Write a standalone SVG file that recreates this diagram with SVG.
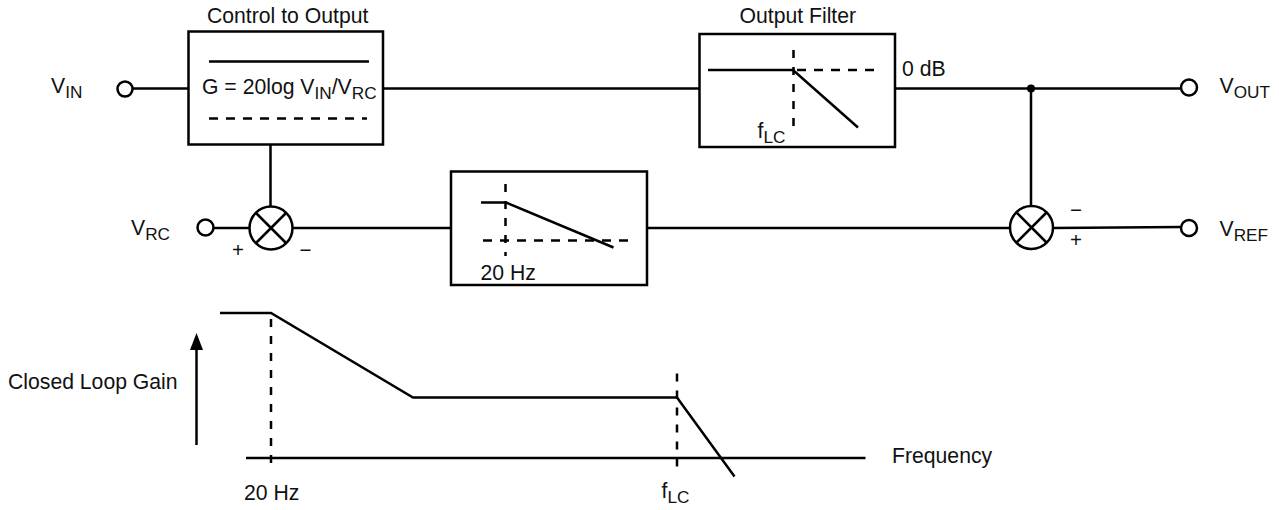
<svg xmlns="http://www.w3.org/2000/svg" width="1279" height="510" viewBox="0 0 1279 510">
<style>
text{font-family:"Liberation Sans",Arial,sans-serif;font-size:21.2px;fill:#111}
.s{font-size:17.200px}
.m{font-size:20.500px;text-anchor:middle}
.l{fill:none;stroke:#000;stroke-width:2.500}
.d{fill:none;stroke:#000;stroke-width:2.500;stroke-dasharray:9 8}
.dv{fill:none;stroke:#000;stroke-width:2.500;stroke-dasharray:8 9}
.b{fill:#fff;stroke:#000;stroke-width:2.500}
</style>
<rect width="1279" height="510" fill="#fff"/>
<g id="connectors">
<path class="l" d="M133 88.500H188.500M383 88.500H699.500M895 88.500H1180.500M1031 88.500V206M270.500 144.500V206.500M213.500 228H249.500M292.500 228H451M647 228H1010M1053.500 228L1180.500 227"/>
</g>
<g id="vin"><circle class="b" cx="125" cy="89" r="7.500"/><text x="51" y="93">V<tspan class="s" dy="5">IN</tspan></text></g>
<g id="vrc"><circle class="b" cx="205.500" cy="227.500" r="8"/><text x="131" y="235">V<tspan class="s" dy="5">RC</tspan></text></g>
<g id="vout"><circle class="b" cx="1189" cy="87.500" r="8"/><text x="1219.500" y="93">V<tspan class="s" dy="5">OUT</tspan></text></g>
<g id="vref"><circle class="b" cx="1189" cy="228" r="8"/><text x="1219.500" y="236">V<tspan class="s" dy="5">REF</tspan></text></g>
<g id="junction"><circle cx="1031" cy="88.500" r="4" fill="#000"/></g>
<g id="control-to-output">
<rect class="b" x="188.500" y="31.500" width="194.500" height="113"/>
<path class="l" d="M209 61.500H369"/>
<path class="d" d="M209 118.500H367"/>
<text x="207" y="23">Control to Output</text>
<text x="202" y="94">G = 20log V<tspan class="s" dy="5">IN</tspan><tspan dy="-5">/V</tspan><tspan class="s" dy="5">RC</tspan></text>
</g>
<g id="output-filter">
<rect class="b" x="699.500" y="34" width="195.500" height="113"/>
<path class="l" d="M708 70H793L858 127.500"/>
<path class="d" d="M797 70H878"/>
<path class="dv" d="M793.500 50V126"/>
<text x="739.500" y="23">Output Filter</text>
<text x="757.500" y="138">f<tspan class="s" dy="5">LC</tspan></text>
<text x="902" y="76">0 dB</text>
</g>
<g id="sum-left">
<circle class="b" cx="271" cy="228" r="21.500"/>
<path class="l" d="M256 213L286 243M286 213L256 243"/>
<text class="m" x="238" y="257">+</text><text class="m" x="305.500" y="257">−</text>
</g>
<g id="sum-right">
<circle class="b" cx="1031.500" cy="227.500" r="21.500"/>
<path class="l" d="M1016.500 212.500L1046.500 242.500M1046.500 212.500L1016.500 242.500"/>
<text class="m" x="1076" y="216.500">−</text><text class="m" x="1076" y="247">+</text>
</g>
<g id="pole-filter">
<rect class="b" x="451" y="171.500" width="196" height="113.500"/>
<path class="l" d="M481 202.500H506L613.500 247.500"/>
<path class="d" d="M483 240.500H628"/>
<path class="dv" d="M505.500 184V256"/>
<text x="480.500" y="280">20 Hz</text>
</g>
<g id="gain-plot">
<path class="l" d="M220 313H271L413 397.500H677L734.500 476.500"/>
<path class="l" d="M246 458H865.500"/>
<path class="dv" d="M271 319V472"/>
<path class="dv" d="M677 373.500V473"/>
<path class="l" d="M196.500 445V340"/>
<path d="M190 350L196.500 333L203 350Z" fill="#000"/>
<text x="8" y="389">Closed Loop Gain</text>
<text x="892" y="462.500">Frequency</text>
<text x="244" y="500">20 Hz</text>
<text x="661.500" y="498">f<tspan class="s" dy="5">LC</tspan></text>
</g>
</svg>
